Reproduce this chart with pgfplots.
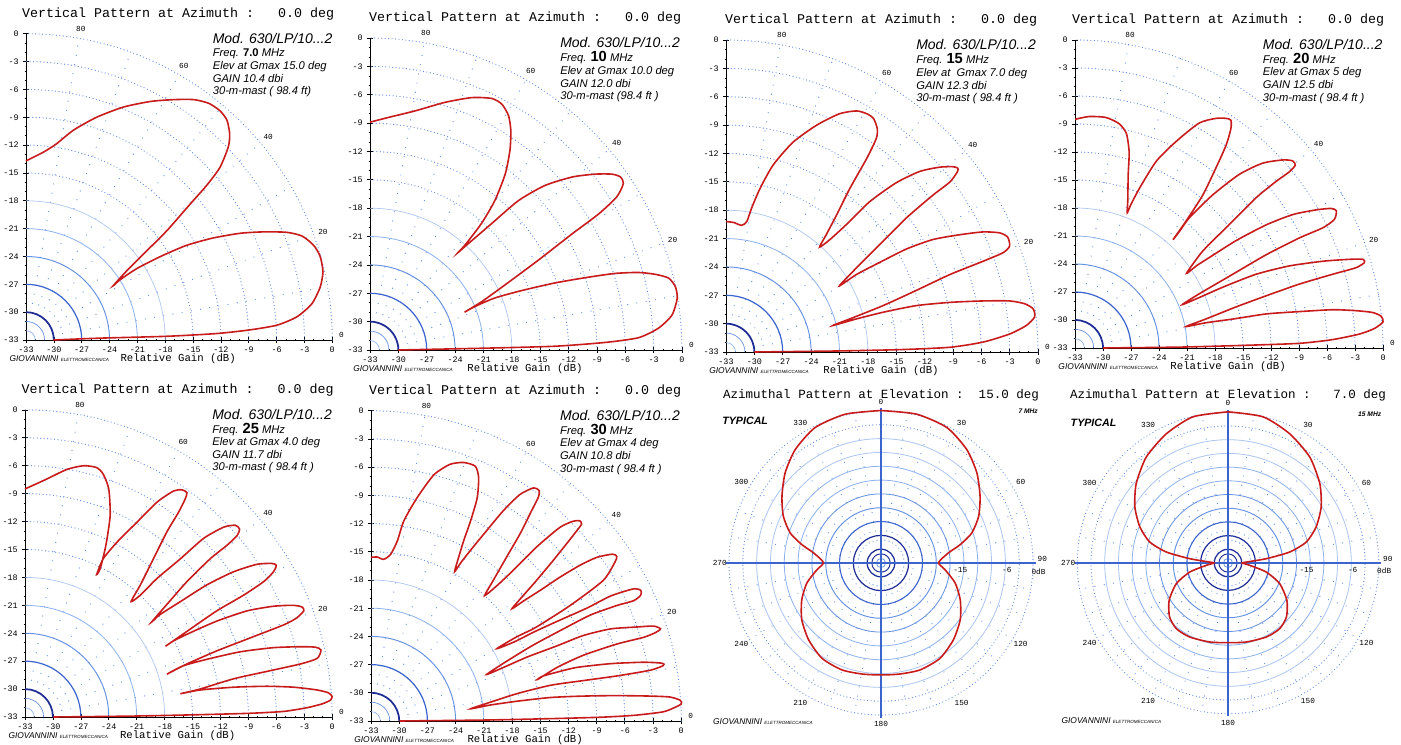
\documentclass[border=0pt]{standalone}
\usepackage{fontspec}
\setmainfont{Liberation Sans}
\setmonofont{Liberation Mono}
\usepackage{pgfplots}
\pgfplotsset{compat=1.18}

\definecolor{pat}{RGB}{200,28,28}
\definecolor{navy}{RGB}{30,45,150}
\definecolor{gb1}{RGB}{60,100,205}
\definecolor{gb2}{RGB}{100,145,225}
\definecolor{gb3}{RGB}{140,178,238}
\definecolor{gb4}{RGB}{172,198,242}
\definecolor{gdot}{RGB}{95,135,225}

\tikzset{
  angl/.style={font=\ttfamily\fontsize{5.8}{6}\selectfont, inner sep=0pt},
  arcdots/.style={gdot, line width=0.9pt, line cap=round, dash pattern=on 0pt off 2.6pt},
  raddots/.style={gdot, line width=0.9pt, line cap=round, dash pattern=on 0pt off 7pt},
}

\pgfplotsset{
  vpat/.style={
    x=#1, y=#1, clip=false, anchor=south west,
    xmin=-33, xmax=0, ymin=-33, ymax=0,
    axis x line*=bottom, axis y line*=left,
    xtick={-33,-30,...,0}, ytick={-33,-30,...,0},
    minor tick num=2, tick align=center,
    major tick length=4pt, minor tick length=2pt,
    tick style={black, line width=0.5pt},
    axis line style={black, line width=0.7pt},
    ticklabel style={font=\ttfamily\fontsize{6.3}{7}\selectfont},
    /pgf/number format/assume math mode=true,
  },
  azpat/.style={
    x=#1, y=#1, clip=false, anchor=center, hide axis,
    xmin=-33, xmax=33, ymin=-33, ymax=33,
  },
}

% quarter arcs, radial dots and labels of the elevation plots
\newcommand\qarc[3]{\draw[#2, line width=#3] (axis cs:-33,-33) ++(0:{#1*\U}) arc[start angle=0, end angle=90, radius={#1*\U}];}
\newcommand\vgrid{%
  \pgfplotsinvokeforeach{18,21,24,27,30,33}{\draw[arcdots] (axis cs:-33,-33) ++(0:{##1*\U}) arc[start angle=0, end angle=90, radius={##1*\U}];}
  \pgfplotsinvokeforeach{10,20,...,80}{\draw[raddots] (axis cs:-33,-33) ++(##1:{3*\U}) -- ++(##1:{30*\U});}
  \qarc{1}{gb3}{0.5pt}\qarc{2}{gb2}{0.5pt}\qarc{3}{navy}{1.3pt}
  \qarc{6}{gb1}{0.9pt}\qarc{9}{gb2}{0.7pt}\qarc{12}{gb3}{0.6pt}\qarc{15}{gb4}{0.5pt}
  \node[angl] at (axis cs:-27.1,0.5) {80};
  \node[angl] at (axis cs:-16,-3.5) {60};
  \node[angl] at (axis cs:-6.9,-11.1) {40};
  \node[angl] at (axis cs:-1,-21.4) {20};
  \node[angl] at (axis cs:1,-32.5) {0};
  \node[font=\ttfamily\fontsize{10}{12}\selectfont] at (axis cs:-16.6,2.1) {Vertical Pattern at Azimuth :\ \ \ 0.0 deg};
  \node[font=\ttfamily\fontsize{8}{9}\selectfont] at (axis cs:-16.6,-35.0) {Relative Gain (dB)};
  \node[anchor=west, inner sep=0pt, font=\itshape\fontsize{6.3}{7}\selectfont] at (axis cs:-34.8,-35.0) {GIOVANNINI {\fontsize{3.4}{4}\selectfont ELETTROMECCANICA}};
}
\newcommand\vinfo[4]{%
  \node[anchor=base west, inner sep=0pt, font=\itshape\fontsize{10.5}{12}\selectfont] at (axis cs:-12.9,-1.0) {Mod. 630/LP/10...2};
  \node[anchor=base west, inner sep=0pt, font=\itshape\fontsize{8.4}{9}\selectfont] at (axis cs:-12.9,-2.5) {Freq. {\upshape\bfseries #1} MHz};
  \node[anchor=base west, inner sep=0pt, font=\itshape\fontsize{8.4}{9}\selectfont] at (axis cs:-12.9,-3.85) {#2};
  \node[anchor=base west, inner sep=0pt, font=\itshape\fontsize{8.4}{9}\selectfont] at (axis cs:-12.9,-5.2) {#3};
  \node[anchor=base west, inner sep=0pt, font=\itshape\fontsize{8.4}{9}\selectfont] at (axis cs:-12.9,-6.55) {#4};
}
% full circles, radial dots and labels of the azimuth plots
\newcommand\acirc[3]{\draw[#2, line width=#3] (axis cs:0,0) circle[radius={#1*\U}];}
\newcommand\agrid{%
  \pgfplotsinvokeforeach{0,10,...,350}{\draw[raddots] (axis cs:0,0) ++(##1:{3*\U}) -- ++(##1:{30*\U});}
  \pgfplotsinvokeforeach{30,33}{\draw[arcdots] (axis cs:0,0) circle[radius={##1*\U}];}
  \acirc{27}{gb4}{0.6pt}\acirc{24}{gb4}{0.6pt}\acirc{21}{gb3}{0.6pt}\acirc{18}{gb3}{0.6pt}
  \acirc{15}{gb2}{0.6pt}\acirc{12}{gb2}{0.7pt}\acirc{9}{gb1}{0.8pt}\acirc{6}{navy}{0.9pt}
  \acirc{3}{navy}{0.9pt}\acirc{2}{navy}{0.7pt}\acirc{1}{gb2}{0.5pt}
  \draw[gb1, line width=0.8pt] (axis cs:-33.6,0) -- (axis cs:33.6,0);
  \draw[gb1, line width=0.8pt] (axis cs:0,-33.6) -- (axis cs:0,33.6);
  \pgfplotsinvokeforeach{0,30,60,120,150,180,210,240,270,300,330}{\path (axis cs:0,0) ++({90-##1}:{35*\U}) node[angl] {##1};}
  \node[angl, anchor=south] at (axis cs:35,0.3) {90};
  \node[angl] at (axis cs:34.2,-1.8) {0dB};
  \node[angl] at (axis cs:17.2,-1.5) {-15};
  \node[angl] at (axis cs:27.3,-1.5) {-6};
  \node[anchor=west, inner sep=0pt, font=\itshape\bfseries\fontsize{8}{9}\selectfont] at (axis cs:-34.5,30.8) {TYPICAL};
  \node[anchor=west, inner sep=0pt, font=\itshape\fontsize{6.3}{7}\selectfont] at (axis cs:-36.5,-34.5) {GIOVANNINI {\fontsize{3.4}{4}\selectfont ELETTROMECCANICA}};
}

\begin{document}
\begin{tikzpicture}
\useasboundingbox (0,0) rectangle (1050.75pt,558.75pt);
\fill[white] (0,0) rectangle (1050.75pt,558.75pt);

% ---- 7 MHz
\def\U{6.96pt}
\begin{axis}[vpat=\U, at={(19.5pt,303.75pt)}]
\vgrid
\vinfo{7.0}{Elev at Gmax 15.0 deg}{GAIN 10.4 dbi}{30-m-mast ( 98.4 ft)}
\addplot[pat, line width=1.2pt, smooth, tension=0.4] coordinates {
(-30.05,-33) (-25.0,-32.8) (-17.8,-32.6) (-12.4,-32.3) (-8.8,-31.9) (-5.95,-31.4) (-3.8,-30.5) (-2.2,-29.1) (-1.3,-27.3) (-1.0,-25.65) (-1.3,-24.0) (-2.0,-22.8) (-3.25,-21.8) (-4.9,-21.4) (-7.4,-21.35) (-9.9,-21.5) (-12.8,-22.0) (-15.7,-22.8) (-18.5,-24.0) (-21.05,-25.3) (-22.85,-26.5) (-23.6,-27.15)
(-22.1,-25.5) (-20.3,-23.7) (-17.8,-21.2) (-15.7,-18.8) (-13.5,-16.3) (-12.1,-14.4) (-11.2,-12.2) (-11.05,-10.8) (-11.35,-9.3) (-12.1,-8.3) (-13.3,-7.5) (-14.9,-7.1) (-17.1,-7.1) (-19.6,-7.3) (-22.5,-7.9) (-25.4,-9.0) (-27.9,-10.4) (-29.7,-11.85) (-31.1,-12.75) (-33.0,-13.7)
};
\end{axis}

% ---- 10 MHz
\def\U{7.09pt}
\begin{axis}[vpat=\U, at={(277.5pt,296.25pt)}]
\vgrid
\vinfo{{\fontsize{11}{12}\selectfont 10}}{Elev at Gmax 10.0 deg}{GAIN 12.0 dbi}{30-m-mast (98.4 ft )}
\addplot[pat, line width=1.2pt, smooth, tension=0.4] coordinates {
(-30.0,-33) (-20.5,-32.8) (-13.4,-32.6) (-8.1,-32.2) (-4.6,-31.7) (-2.5,-30.7) (-1.05,-29.3) (-0.5,-27.5) (-0.7,-26.3) (-1.4,-25.4) (-2.8,-25.0) (-4.6,-24.8) (-7.05,-24.9) (-9.9,-25.3) (-13.4,-25.9) (-16.9,-26.7) (-19.8,-27.5) (-21.9,-28.4) (-23.0,-29.0)
(-21.2,-27.9) (-18.7,-26.1) (-15.2,-23.5) (-11.6,-20.7) (-8.8,-18.6) (-6.9,-16.8) (-6.2,-15.4) (-6.5,-14.7) (-7.4,-14.4) (-9.2,-14.4) (-11.6,-14.7) (-14.5,-15.6) (-17.3,-17.2) (-20.1,-19.6) (-22.2,-21.4) (-23.7,-22.7)
(-22.95,-21.9) (-21.2,-19.6) (-19.8,-17.2) (-18.7,-14.4) (-18.2,-11.9) (-18.1,-9.8) (-18.35,-8.2) (-19.05,-7.0) (-20.1,-6.4) (-22.2,-6.3) (-25.05,-6.8) (-28.2,-7.7) (-31.05,-8.4) (-33.0,-8.9)
};
\end{axis}

% ---- 15 MHz
\def\U{7.09pt}
\begin{axis}[vpat=\U, at={(544.5pt,294.75pt)}]
\vgrid
\vinfo{{\fontsize{11}{12}\selectfont 15}}{Elev at\ \ Gmax 7.0 deg}{GAIN 12.3 dbi}{30-m-mast ( 98.4 ft )}
\addplot[pat, line width=1.2pt, smooth, tension=0.4] coordinates {
(-30.0,-33) (-21.7,-32.9) (-14.6,-32.75) (-9.3,-32.5) (-5.8,-31.95) (-3.0,-31.1) (-1.24,-30.2) (-0.36,-29.3) (-0.5,-28.45) (-1.4,-27.9) (-3.0,-27.6) (-5.8,-27.6) (-9.3,-27.75) (-12.9,-28.1) (-16.4,-28.8) (-19.2,-29.5) (-21.7,-30.2)
(-19.9,-29.5) (-16.4,-28.1) (-12.9,-26.5) (-9.3,-24.8) (-5.8,-23.4) (-3.7,-22.5) (-3.0,-21.8) (-3.2,-20.85) (-4.05,-20.4) (-5.8,-20.3) (-8.3,-20.6) (-11.1,-21.1) (-13.9,-22.1) (-16.7,-23.5) (-19.2,-24.8) (-21.0,-26.0)
(-19.2,-24.1) (-16.7,-21.6) (-13.9,-18.8) (-11.1,-16.4) (-9.3,-15.0) (-8.5,-13.9) (-8.5,-13.55) (-9.0,-13.4) (-10.4,-13.45) (-12.5,-13.9) (-15.0,-15.1) (-17.8,-17.1) (-20.25,-19.5) (-22.0,-21.1) (-23.1,-21.9)
(-22.4,-20.6) (-21.3,-18.5) (-19.9,-15.7) (-18.1,-12.5) (-17.1,-10.4) (-17.0,-9.35) (-17.4,-8.3) (-18.1,-7.8) (-19.2,-7.5) (-21.0,-7.8) (-23.4,-9.0) (-25.9,-10.8) (-28.0,-13.2) (-29.4,-15.7) (-30.3,-17.8) (-30.8,-19.2) (-31.35,-19.6) (-32.2,-19.3) (-33.0,-19.2)
};
\end{axis}

% ---- 20 MHz
\def\U{7.0pt}
\begin{axis}[vpat=\U, at={(806.25pt,297.75pt)}]
\vgrid
\vinfo{{\fontsize{11}{12}\selectfont 20}}{Elev at Gmax 5 deg}{GAIN 12.5 dbi}{30-m-mast ( 98.4 ft )}
\addplot[pat, line width=1.2pt, smooth, tension=0.4] coordinates {
(-30.0,-33) (-21.5,-32.9) (-14.3,-32.7) (-8.95,-32.5) (-5.4,-32.1) (-2.5,-31.5) (-0.9,-30.9) (0.0,-30.2) (-0.2,-29.6) (-1.1,-29.2) (-2.9,-29.0) (-5.4,-28.9) (-8.95,-29.1) (-12.5,-29.35) (-16.1,-29.9) (-19.0,-30.3) (-21.1,-30.7)
(-19.0,-29.9) (-15.75,-28.6) (-12.5,-27.4) (-8.95,-26.15) (-5.4,-25.1) (-2.9,-24.4) (-2.0,-23.85) (-2.15,-23.5) (-3.6,-23.5) (-6.4,-23.7) (-10.0,-24.2) (-13.6,-25.1) (-17.2,-26.5) (-19.7,-27.6) (-21.5,-28.35)
(-19.7,-27.2) (-16.1,-25.1) (-12.5,-23.0) (-8.95,-21.2) (-6.4,-20.1) (-5.2,-19.2) (-5.0,-18.3) (-5.55,-18.05) (-7.15,-18.2) (-9.65,-18.7) (-12.5,-19.8) (-15.75,-21.5) (-18.6,-23.3) (-20.0,-24.2) (-21.05,-25.0)
(-19.3,-22.6) (-16.5,-19.8) (-13.6,-16.9) (-11.45,-15.15) (-10.0,-14.1) (-9.4,-13.4) (-9.7,-12.95) (-10.7,-12.85) (-12.9,-13.2) (-15.4,-14.4) (-18.25,-16.6) (-20.75,-19.05) (-21.8,-20.5) (-22.5,-21.4)
(-21.1,-19.4) (-19.3,-16.6) (-17.9,-13.7) (-16.8,-11.25) (-16.3,-9.5) (-16.3,-8.6) (-16.8,-8.4) (-17.9,-8.4) (-19.7,-8.9) (-22.2,-10.9) (-24.3,-13.0) (-26.1,-15.9) (-27.0,-17.6) (-27.4,-18.5)
(-27.35,-17.3) (-27.3,-14.4) (-27.2,-12.0) (-27.5,-10.0) (-28.3,-8.95) (-29.7,-8.3) (-31.5,-8.2) (-33.0,-8.5)
};
\end{axis}

% ---- 25 MHz
\def\U{6.98pt}
\begin{axis}[vpat=\U, at={(18.75pt,21pt)}]
\vgrid
\vinfo{{\fontsize{11}{12}\selectfont 25}}{Elev at Gmax 4.0 deg}{GAIN 11.7 dbi}{30-m-mast ( 98.4 ft )}
\addplot[pat, line width=1.2pt, smooth, tension=0.4] coordinates {
(-29.95,-33) (-21.3,-32.9) (-14.2,-32.75) (-8.8,-32.6) (-5.2,-32.4) (-2.7,-32.0) (-1.1,-31.6) (-0.2,-31.2) (0.0,-30.8) (-0.4,-30.4) (-1.6,-30.1) (-4.1,-29.8) (-7.0,-29.7) (-10.6,-29.8) (-14.2,-30.1) (-16.3,-30.5)
(-14.2,-30.0) (-10.6,-28.9) (-7.0,-28.1) (-3.4,-27.3) (-1.6,-26.7) (-1.2,-25.8) (-1.8,-25.5) (-3.4,-25.45) (-6.3,-25.55) (-9.9,-26.0) (-13.45,-26.8) (-16.0,-27.5) (-17.75,-28.4)
(-15.6,-27.3) (-12.4,-25.9) (-8.8,-24.5) (-5.2,-23.1) (-3.8,-22.35) (-3.05,-21.6) (-3.2,-21.2) (-4.1,-21.0) (-6.3,-21.1) (-9.15,-21.6) (-12.4,-22.7) (-15.25,-23.95) (-17.0,-24.8) (-17.9,-25.4)
(-15.6,-23.8) (-12.4,-21.6) (-9.5,-19.9) (-7.35,-18.45) (-6.3,-17.4) (-6.0,-16.7) (-6.5,-16.5) (-8.1,-16.6) (-10.6,-17.4) (-13.45,-18.8) (-16.3,-20.6) (-18.5,-22.0) (-19.4,-22.8)
(-17.75,-20.9) (-15.6,-18.45) (-13.1,-16.0) (-11.3,-14.55) (-10.2,-13.5) (-9.95,-12.8) (-10.4,-12.4) (-11.65,-12.6) (-13.8,-13.8) (-16.3,-16.0) (-18.8,-18.1) (-20.6,-19.9) (-21.6,-20.6)
(-20.6,-18.8) (-19.2,-16.0) (-17.75,-13.1) (-16.5,-11.0) (-15.8,-9.6) (-15.6,-8.9) (-16.1,-8.6) (-17.0,-8.7) (-18.8,-9.9) (-21.0,-12.1) (-23.1,-14.2) (-24.6,-16.0) (-25.3,-17.7)
(-24.9,-17.0) (-24.3,-14.5) (-23.85,-11.35) (-24.0,-8.5) (-24.6,-6.9) (-25.3,-6.2) (-26.7,-6.0) (-28.5,-6.4) (-30.7,-7.45) (-33.0,-8.5)
};
\end{axis}

% ---- 30 MHz
\def\U{7.05pt}
\begin{axis}[vpat=\U, at={(278.25pt,18pt)}]
\vgrid
\vinfo{{\fontsize{11}{12}\selectfont 30}}{Elev at Gmax 4 deg}{GAIN 10.8 dbi}{30-m-mast ( 98.4 ft )}
\addplot[pat, line width=1.2pt, smooth, tension=0.4] coordinates {
(-29.95,-33) (-21.0,-32.9) (-13.9,-32.75) (-8.6,-32.6) (-5.05,-32.4) (-2.05,-32.05) (-1.0,-31.7) (0.0,-31.2) (-0.1,-30.8) (-1.2,-30.45) (-3.3,-30.35) (-6.8,-30.3) (-10.4,-30.35) (-13.9,-30.5) (-17.5,-30.9) (-20.3,-31.3) (-22.4,-31.7)
(-20.3,-31.0) (-17.5,-30.1) (-13.9,-29.2) (-10.4,-28.7) (-6.8,-28.2) (-3.3,-27.6) (-1.9,-27.1) (-2.05,-26.85) (-4.0,-26.75) (-7.5,-26.9) (-11.1,-27.3) (-13.2,-27.8) (-14.8,-28.25) (-15.3,-28.6)
(-13.2,-27.3) (-10.4,-26.0) (-6.8,-24.8) (-4.0,-24.1) (-2.75,-23.6) (-2.2,-23.2) (-2.95,-22.9) (-4.7,-23.0) (-7.5,-23.2) (-10.4,-23.9) (-13.2,-25.0) (-16.4,-26.2) (-18.9,-27.3) (-20.7,-28.05)
(-18.5,-26.6) (-15.7,-24.9) (-12.15,-23.0) (-9.6,-21.7) (-6.8,-20.7) (-5.05,-20.2) (-4.3,-19.6) (-4.3,-19.1) (-5.1,-18.95) (-7.5,-19.7) (-10.05,-21.0) (-13.2,-22.4) (-15.6,-23.5) (-17.8,-24.6) (-19.6,-25.3)
(-17.6,-24.1) (-15.4,-23.0) (-11.8,-20.7) (-8.3,-18.05) (-7.05,-16.1) (-6.85,-15.5) (-7.3,-15.25) (-9.0,-15.6) (-10.8,-16.45) (-12.9,-17.7) (-15.0,-19.1) (-16.8,-20.25) (-18.0,-21.05)
(-16.8,-19.65) (-15.4,-18.05) (-13.6,-15.9) (-12.2,-14.15) (-11.1,-12.75) (-10.6,-12.05) (-10.8,-11.7) (-11.5,-11.75) (-12.9,-12.4) (-15.4,-14.5) (-17.9,-17.0) (-19.6,-18.6) (-20.9,-19.65)
(-20.0,-18.05) (-18.6,-15.6) (-17.15,-13.1) (-15.9,-10.6) (-15.2,-9.2) (-15.1,-8.5) (-15.7,-8.2) (-17.15,-8.9) (-18.9,-10.6) (-20.7,-12.75) (-22.3,-14.7) (-23.4,-16.1) (-24.1,-17.1)
(-23.8,-16.0) (-23.15,-13.85) (-22.4,-11.7) (-21.7,-9.25) (-21.55,-7.1) (-21.9,-5.9) (-23.15,-5.5) (-24.6,-5.7) (-26.3,-6.8) (-28.1,-9.25) (-29.5,-11.7) (-30.2,-13.85) (-30.9,-15.25) (-31.65,-15.8) (-32.35,-15.55) (-33.0,-15.6)
};
\end{axis}

% ---- azimuth, 7 MHz, elevation 15
\def\U{3.455pt}
\begin{axis}[azpat=\U, at={(660.75pt,136.5pt)}]
\agrid
\node[font=\ttfamily\fontsize{9.4}{11}\selectfont] at (axis cs:0,36.5) {Azimuthal Pattern at Elevation :\ \ 15.0 deg};
\node[anchor=east, inner sep=0pt, font=\itshape\bfseries\fontsize{5}{6}\selectfont] at (axis cs:34.1,33.0) {7 MHz};
\addplot[pat, line width=1.2pt, smooth, tension=0.4] coordinates {
(0,33.1) (7.75,32.3) (14.3,29.4) (18.6,24.65) (20.8,19.6) (21.5,14.5) (21.2,10.15) (19.7,6.5) (17.2,4.0) (14.65,2.2) (12.5,0.1) (13.9,-1.45) (16.1,-4.35) (17.2,-8.0) (17.2,-12.3) (15.7,-16.7) (12.8,-20.7) (8.5,-23.2) (4.1,-24.1) (0,-24.3)
(-4.1,-24.1) (-8.5,-23.2) (-12.8,-20.7) (-15.7,-16.7) (-17.2,-12.3) (-17.2,-8.0) (-16.1,-4.35) (-13.9,-1.45) (-12.5,0.1) (-14.65,2.2) (-17.2,4.0) (-19.7,6.5) (-21.2,10.15) (-21.5,14.5) (-20.8,19.6) (-18.6,24.65) (-14.3,29.4) (-7.75,32.3) (0,33.1)
};
\end{axis}

% ---- azimuth, 15 MHz, elevation 7
\def\U{3.425pt}
\begin{axis}[azpat=\U, at={(921pt,136.5pt)}]
\agrid
\node[font=\ttfamily\fontsize{9.4}{11}\selectfont] at (axis cs:0,36.8) {Azimuthal Pattern at Elevation :\ \ \ 7.0 deg};
\node[anchor=east, inner sep=0pt, font=\itshape\bfseries\fontsize{5}{6}\selectfont] at (axis cs:33.6,32.5) {15 MHz};
\addplot[pat, line width=1.2pt, smooth, tension=0.4] coordinates {
(0,33.1) (7.7,32.0) (13.5,28.3) (17.9,23.2) (20.1,17.4) (20.4,12.3) (19.3,7.9) (17.15,4.6) (13.5,2.4) (8.4,0.95) (4.0,0.2) (3.1,0) (4.75,-0.5) (8.4,-2.0) (11.3,-4.5) (12.9,-8.2) (12.8,-11.8) (11.3,-14.4) (8.4,-16.2) (4.0,-17.3) (0,-17.45)
(-4.0,-17.3) (-8.4,-16.2) (-11.3,-14.4) (-12.8,-11.8) (-12.9,-8.2) (-11.3,-4.5) (-8.4,-2.0) (-4.75,-0.5) (-3.1,0) (-4.0,0.2) (-8.4,0.95) (-13.5,2.4) (-17.15,4.6) (-19.3,7.9) (-20.4,12.3) (-20.1,17.4) (-17.9,23.2) (-13.5,28.3) (-7.7,32.0) (0,33.1)
};
\end{axis}
\end{tikzpicture}
\end{document}
